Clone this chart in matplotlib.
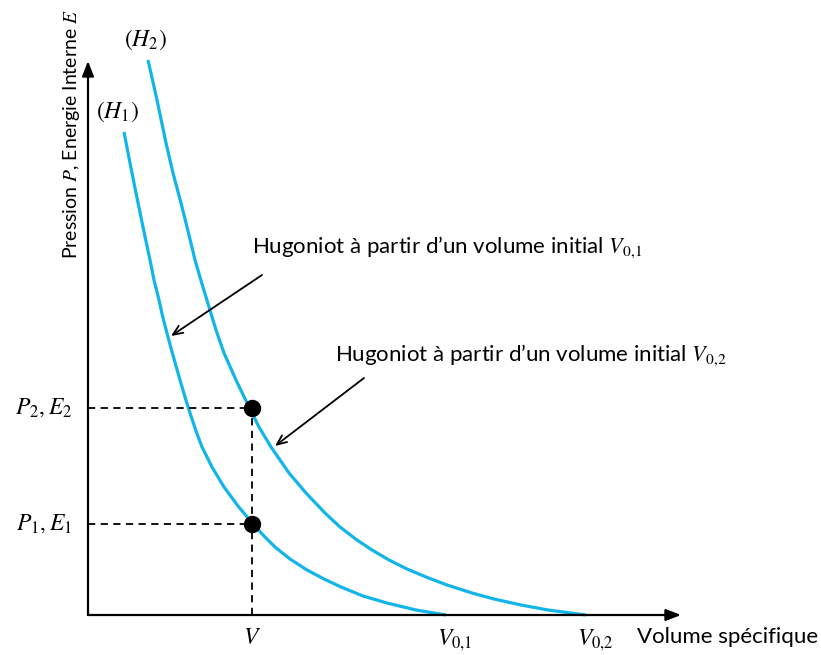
import matplotlib
matplotlib.use('Agg')
import matplotlib.pyplot as plt

plt.rcParams['font.family'] = ['Lato', 'DejaVu Sans']
plt.rcParams['mathtext.fontset'] = 'stix'

# Hugoniot curves (x = volume, y = pressure, arbitrary units)
h1_v = [36, 42, 48, 55, 62, 66, 71, 75, 80, 86, 92, 97, 102, 108, 114, 124, 136, 150, 165,
        176, 187, 202, 219, 236, 253, 275, 299, 328, 358]
h1_p = [483, 452, 422, 388, 355, 335, 315, 297, 278, 256, 235, 218, 202, 184, 168, 148, 128, 109, 91,
        79, 68, 56, 45, 36, 28, 19, 12, 5, 0]
h2_v = [60, 69, 78, 85, 93, 100, 107, 114, 121, 128, 136, 148, 160, 171, 183, 192, 201, 218, 237,
        252, 269, 284, 301, 319, 338, 359, 384, 406, 433, 460, 498]
h2_p = [555, 515, 472, 442, 412, 384, 355, 331, 308, 285, 262, 235, 210, 188, 168, 155, 142, 122, 102,
        88, 75, 65, 55, 46, 38, 30, 22, 16, 10, 5, 0]

# state points
v_state = 164
p_states = [91, 207]
p_labels = [r'$P_1, E_1$', r'$P_2, E_2$']
v0_values = [359, 499]
v0_labels = [r'$V_{0{,}1}$', r'$V_{0{,}2}$']

blue = '#12B5EA'

fig = plt.figure(figsize=(8.21, 6.55), dpi=100)
ax = fig.add_axes([0, 0, 1, 1])
ax.set_xlim(-88, 733)
ax.set_ylim(-40, 615)
ax.axis('off')

# axes arrows
ax.annotate('', xy=(593, 0), xytext=(0, 0),
            arrowprops=dict(arrowstyle='-|>,head_length=0.9,head_width=0.35', color='black', lw=1.6,
                            shrinkA=0, shrinkB=0))
ax.annotate('', xy=(0, 554), xytext=(0, 0),
            arrowprops=dict(arrowstyle='-|>,head_length=0.9,head_width=0.35', color='black', lw=1.6,
                            shrinkA=0, shrinkB=0))

# curves
ax.plot(h1_v, h1_p, color=blue, lw=2.3, solid_joinstyle='round', solid_capstyle='butt')
ax.plot(h2_v, h2_p, color=blue, lw=2.3, solid_joinstyle='round', solid_capstyle='butt')

# dashed guides and state points
for p in p_states:
    ax.plot([0, v_state], [p, p], color='black', lw=1.3, ls=(0, (4, 3)))
ax.plot([v_state, v_state], [0, max(p_states)], color='black', lw=1.3, ls=(0, (4, 3)))
ax.plot([v_state] * len(p_states), p_states, 'o', color='black', ms=11.5)

for p, lab in zip(p_states, p_labels):
    ax.text(-16, p, lab, fontsize=17, ha='right', va='center')

ax.text(v_state, -22, r'$V$', fontsize=17, ha='center', va='center')
for v, lab in zip(v0_values, v0_labels):
    ax.text(v + 8, -25, lab, fontsize=17, ha='center', va='center')
ax.text(549, -22, 'Volume spécifique', fontsize=16, ha='left', va='center')

ax.text(-16, 481, 'Pression $P$, Energie Interne $E$', fontsize=14, rotation=90,
        ha='center', va='center')

ax.text(30, 503, r'$(H_1)$', fontsize=17, ha='center', va='center')
ax.text(58, 575, r'$(H_2)$', fontsize=17, ha='center', va='center')

# annotations
ax.annotate('', xy=(83, 279), xytext=(174, 340),
            arrowprops=dict(arrowstyle='->,head_length=0.7,head_width=0.3', color='black', lw=1.3,
                            shrinkA=0, shrinkB=0))
ax.text(164, 368, 'Hugoniot à partir d’un volume initial $V_{0{,}1}$', fontsize=16,
        ha='left', va='center')
ax.annotate('', xy=(187, 169), xytext=(276, 237),
            arrowprops=dict(arrowstyle='->,head_length=0.7,head_width=0.3', color='black', lw=1.3,
                            shrinkA=0, shrinkB=0))
ax.text(247, 260, 'Hugoniot à partir d’un volume initial $V_{0{,}2}$', fontsize=16,
        ha='left', va='center')

fig.savefig('out.png', dpi=100)
